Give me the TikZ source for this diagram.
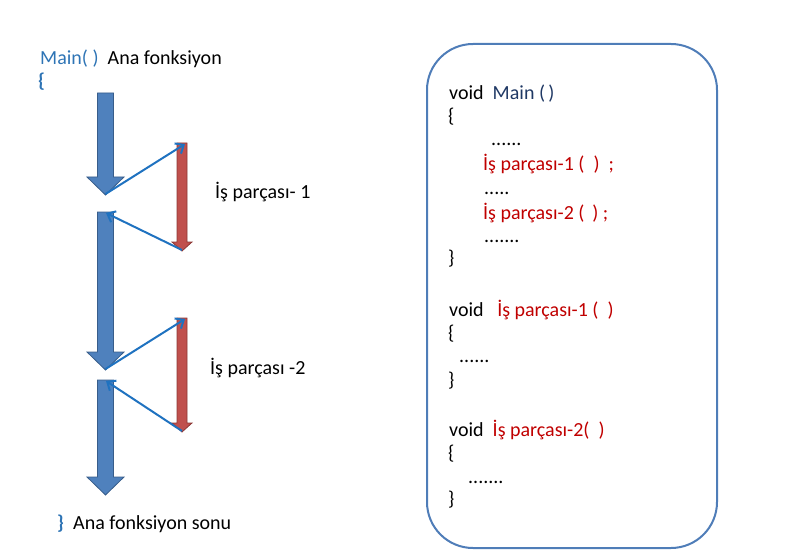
\documentclass[tikz,border=0pt]{standalone}
\usepackage{fontspec}
\setmainfont{Carlito}
\usetikzlibrary{arrows.meta}
\definecolor{bigblue}{HTML}{4F81BD}
\definecolor{bigblueline}{HTML}{385D8A}
\definecolor{bigred}{HTML}{C0504D}
\definecolor{bigredline}{HTML}{8C3836}
\definecolor{thinblue}{HTML}{1F72C0}
\definecolor{txtblue}{HTML}{2E74B5}
\definecolor{navy}{HTML}{1F3864}
\definecolor{codered}{HTML}{C00000}
\definecolor{boxline}{HTML}{4F7DB8}
\tikzset{
  txt/.style={anchor=base west, inner sep=0pt, font=\fontsize{20}{22}\selectfont},
  bigarrow/.style={fill=bigblue, draw=bigblueline, line width=0.8pt, line join=miter},
  redarrow/.style={fill=bigred, draw=bigredline, line width=0.8pt, line join=miter},
  thin/.style={draw=thinblue, line width=2pt, -{Straight Barb[length=7pt,width=12pt,line width=2pt]}},
}
\begin{document}
\begin{tikzpicture}[x=1pt,y=-1pt]
\useasboundingbox (0,0) rectangle (790,559);
% big blue arrows
\draw[bigarrow] (97.5,93) -- (113.5,93) -- (113.5,177) -- (124,177) -- (105.5,195) -- (87,177) -- (97.5,177) -- cycle;
\draw[bigarrow] (97.5,212) -- (113.5,212) -- (113.5,352) -- (124,352) -- (105.5,370) -- (87,352) -- (97.5,352) -- cycle;
\draw[bigarrow] (97.5,380) -- (113.5,380) -- (113.5,477) -- (124,477) -- (105.5,495) -- (87,477) -- (97.5,477) -- cycle;
% red arrows
\draw[redarrow] (177,143) -- (187,143) -- (187,242) -- (192,242) -- (182,251) -- (172,242) -- (177,242) -- cycle;
\draw[redarrow] (177,318) -- (187,318) -- (187,423) -- (192,423) -- (182,432) -- (172,423) -- (177,423) -- cycle;
% named points
\coordinate (b1tip) at (105.5,194);
\coordinate (b2top) at (106,213);
\coordinate (b2tip) at (105.5,369);
\coordinate (b3top) at (106,381);
\coordinate (r1top) at (185,144);
\coordinate (r1tip) at (182,250);
\coordinate (r2top) at (185,319);
\coordinate (r2tip) at (182,431);
\draw[thin] (b1tip) -- (r1top);
\draw[thin] (r1tip) -- (b2top);
\draw[thin] (b2tip) -- (r2top);
\draw[thin] (r2tip) -- (b3top);
% left texts
\node[txt] (main) at (40,65) {\textcolor{txtblue}{Main( )}\ \ Ana fonksiyon};
\node[txt, text=txtblue] (ob) at (38,88) {\bfseries\{};
\node[txt] (l1) at (215,198) {İş parçası- 1};
\node[txt] (l2) at (210,374) {İş parçası -2};
\node[txt, text=txtblue] (cb) at (57,529) {\bfseries\}};
\node[txt] (end) at (73,529) {Ana fonksiyon sonu};
% code box
\draw[boxline, line width=2pt, rounded corners=46pt] (427,44) rectangle (717,548);
\node[txt] (c1) at (449,100) {void\ \ \textcolor{navy}{Main (\,)}};
\node[txt] (c2) at (448,123) {\{};
\node[txt] (c3) at (491,146) {......};
\node[txt, text=codered] (c4) at (483,171) {İş parçası-1 (\ \ )\ \ ;};
\node[txt] (c5) at (484,194) {.....};
\node[txt, text=codered] (c6) at (483,219) {İş parçası-2 (\ \,) ;};
\node[txt] (c7) at (484,242) {.......};
\node[txt] (c8) at (448,264) {\}};
\node[txt] (c9) at (449,316) {void\ \ \ \textcolor{codered}{İş parçası-1 (\ \ )}};
\node[txt] (c10) at (448,339) {\{};
\node[txt] (c11) at (459,362) {......};
\node[txt] (c12) at (448,386) {\}};
\node[txt] (c13) at (449,436) {void\ \ \textcolor{codered}{İş parçası-2(\ \ )}};
\node[txt] (c14) at (448,459) {\{};
\node[txt] (c15) at (468,483) {.......};
\node[txt] (c16) at (448,505) {\}};
\end{tikzpicture}
\end{document}
